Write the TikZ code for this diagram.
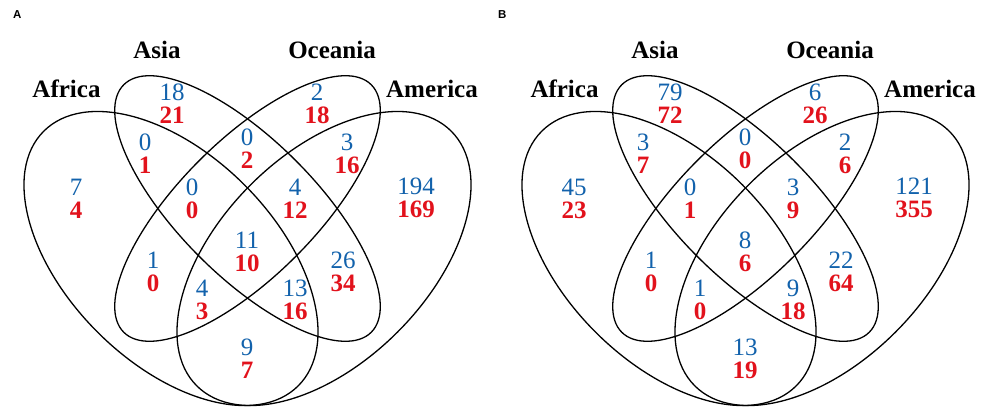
\documentclass[tikz,border=0pt]{standalone}
\usepackage{fontspec}
\setmainfont{Liberation Serif}
\newfontfamily\panelfont{Liberation Sans}
\definecolor{numblue}{RGB}{18,98,172}
\definecolor{numred}{RGB}{226,18,28}
\tikzset{
  vline/.style={line width=1.3pt, draw=black},
  bnum/.style={anchor=base, inner sep=0pt, text=numblue, font=\fontsize{25}{25}\selectfont},
  rnum/.style={anchor=base, inner sep=0pt, text=numred, font=\fontsize{25}{25}\selectfont\bfseries},
  setlabel/.style={anchor=base, inner sep=0pt, font=\fontsize{25}{25}\selectfont\bfseries},
  panellabel/.style={anchor=base west, inner sep=0pt, font=\panelfont\fontsize{11.5}{12}\selectfont\bfseries},
}
\newcommand\vpair[5]{%
  \node[bnum] (#1b) at (#2,#3+8.5) {#4};
  \node[rnum] (#1r) at (#2,#3+31.5) {#5};}
\newcommand\fourellipses{%
  \draw[vline, rotate around={-45:(171,258.5)}] (171,258.5) ellipse [x radius=180pt, y radius=104pt];
  \draw[vline, rotate around={45:(324,258.5)}] (324,258.5) ellipse [x radius=180pt, y radius=104pt];
  \draw[vline, rotate around={-45:(247.5,208.5)}] (247.5,208.5) ellipse [x radius=175pt, y radius=68pt];
  \draw[vline, rotate around={45:(247.5,208.5)}] (247.5,208.5) ellipse [x radius=175pt, y radius=68pt];
}
\newcommand\setlabels[1]{%
  \node[setlabel] (#1africa) at (66.5,98) {Africa};
  \node[setlabel] (#1asia) at (157,59) {Asia};
  \node[setlabel] (#1oceania) at (332,59) {Oceania};
  \node[setlabel] (#1america) at (432,98) {America};
}
\begin{document}
\begin{tikzpicture}[x=1pt, y=-1pt]
\useasboundingbox (0,0) rectangle (992,417);
\fill[white] (0,0) rectangle (992,417);
% Panel A
\node[panellabel] (labA) at (13,18.3) {A};
\fourellipses
\setlabels{a}
\vpair{a1}{172}{92}{18}{21}
\vpair{a2}{317}{92}{2}{18}
\vpair{a3}{76}{187}{7}{4}
\vpair{a4}{416}{186}{194}{169}
\vpair{a5}{145}{142}{0}{1}
\vpair{a6}{247}{137}{0}{2}
\vpair{a7}{347}{142}{3}{16}
\vpair{a8}{192}{187}{0}{0}
\vpair{a9}{295}{187}{4}{12}
\vpair{a10}{247}{240}{11}{10}
\vpair{a11}{153}{260}{1}{0}
\vpair{a12}{343}{260}{26}{34}
\vpair{a13}{202}{288}{4}{3}
\vpair{a14}{295}{288}{13}{16}
\vpair{a15}{247}{347}{9}{7}
% Panel B
\node[panellabel] (labB) at (498,18.3) {B};
\begin{scope}[xshift=498pt]
\fourellipses
\setlabels{b}
\vpair{b1}{172}{92}{79}{72}
\vpair{b2}{317}{92}{6}{26}
\vpair{b3}{76}{187}{45}{23}
\vpair{b4}{416}{186}{121}{355}
\vpair{b5}{145}{142}{3}{7}
\vpair{b6}{247}{137}{0}{0}
\vpair{b7}{347}{142}{2}{6}
\vpair{b8}{192}{187}{0}{1}
\vpair{b9}{295}{187}{3}{9}
\vpair{b10}{247}{240}{8}{6}
\vpair{b11}{153}{260}{1}{0}
\vpair{b12}{343}{260}{22}{64}
\vpair{b13}{202}{288}{1}{0}
\vpair{b14}{295}{288}{9}{18}
\vpair{b15}{247}{347}{13}{19}
\end{scope}
\end{tikzpicture}
\end{document}
